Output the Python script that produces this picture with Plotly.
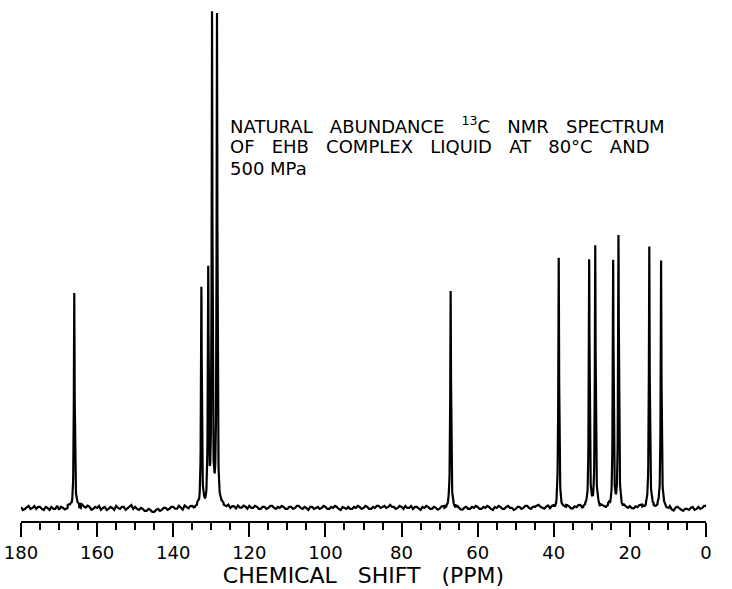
import numpy as np
import plotly.graph_objects as go

# Peak positions (ppm) and heights (arbitrary units, baseline = 0)
peak_ppm = [166.0, 132.6, 130.8, 129.8, 128.5, 67.1, 38.7, 30.7, 29.1, 24.4, 23.0, 14.9, 11.8]
peak_height = [216, 218, 233, 489, 491, 215, 249, 245, 261, 245, 270, 261, 247]

# Baseline noise: whole-ppm samples (180 -> 0)
noise_int_ppm = list(range(180, -1, -1))
noise_int = [
    1, -1, 2, 0, -1, 1, -2, 0, 1, -1,
    -2, 0, -1, 1, -1, 2, 3, 0, 1, -1,
    0, -2, 1, -1, 0, 2, -1, 1, 0, 3,
    1, -2, -1, -3, -2, -4, -1, -2, 0, -1,
    1, -1, 0, 2, -1, 1, 0, -1, 1, 0,
    0, 1, -1, 2, 0, -1, 1, 2, 0, 1,
    2, 0, 1, -1, 1, 0, 2, -1, 0, 1,
    -1, 1, 0, 2, -1, 0, 1, -1, 1, 0,
    1, -1, 0, 1, -2, 0, 1, -1, 0, 1,
    0, 1, -1, 0, 2, 1, 0, 3, 1, 0,
    1, 2, 0, -1, 1, -2, 0, 1, -1, 0,
    -1, 1, 0, 2, -1, 0, -2, 1, -1, 0,
    1, -1, 0, 1, -2, 0, 1, -1, 2, 0,
    -1, 1, 0, 2, -1, 1, 3, 0, 1, -1,
    0, 2, -1, 0, 1, -1, 0, 2, 0, -1,
    1, 0, -1, 1, 0, -1, 0, 1, -1, 0,
    1, -1, 0, 2, -1, 0, 1, -1, 0, 1,
    -1, -2, 0, -1, -3, -1, 0, -2, 1, 0,
    2,
]
# ... and half-ppm samples (179.5 -> 0.5)
noise_half_ppm = [v - 0.5 for v in range(180, 0, -1)]
noise_half = [
    -2, 1, -1, 2, 1, -1, 1, -2, -1, 2,
    1, -2, 2, -1, 1, -1, 1, 2, -2, 1,
    2, 0, -2, 1, -2, 0, 1, -2, 2, -1,
    -1, 0, -3, -1, -4, -2, -3, 0, -2, 1,
    -1, 2, -2, 0, 1, -1, 2, 1, -1, 2,
    -1, -1, 1, 0, 2, 1, -1, 0, 2, -1,
    0, 2, -1, 1, -1, 2, 0, 1, 2, -1,
    1, -1, 2, 0, 1, -2, 1, 0, -1, 2,
    -1, 1, 2, -1, 1, -1, -1, 1, 2, -1,
    2, -1, 1, 2, 0, 2, 1, 1, -1, 2,
    -1, 0, 2, 1, -1, 1, 2, -1, 1, -2,
    1, -1, 2, 0, 1, -2, 0, -1, 1, 2,
    -1, 1, 2, -1, 1, 2, -1, 1, 0, -2,
    1, -1, 2, 0, 1, 2, 1, -1, 2, 1,
    -2, 1, 0, 2, -1, 1, 2, -1, 1, 2,
    -1, 2, 1, -1, 2, 1, -1, 2, 1, -1,
    -1, 1, 2, 0, 1, 2, -1, 1, 2, -1,
    1, -3, 1, -2, -1, -2, 1, -1, -1, 2,
]

x_ticks = list(range(180, -1, -20))
x_tick_labels = [str(v) for v in x_ticks]
x_minor = list(range(180, -1, -5))

# Build the spectrum trace: baseline samples plus dense samples around each peak
noise_lookup = dict(zip([float(v) for v in noise_int_ppm], noise_int))
noise_lookup.update(dict(zip(noise_half_ppm, noise_half)))
half_width = 0.12
xs = set(noise_lookup.keys())
for p in peak_ppm:
    for k in range(-50, 51):
        xs.add(round(p + k * 0.04, 3))
xs = np.array(sorted(xs, reverse=True))
ys = np.array([noise_lookup[round(min(max(x, 0.0), 180.0) * 2) / 2] for x in xs], dtype=float)
for p, h in zip(peak_ppm, peak_height):
    ys += h / (1.0 + ((xs - p) / half_width) ** 2)

fig = go.Figure()
fig.add_trace(go.Scatter(x=xs, y=ys, mode="lines",
                         line=dict(color="black", width=2.2),
                         hoverinfo="skip", showlegend=False))

font_family = "DejaVu Sans"
gap = "\u00a0\u00a0 "
label_lines = [
    gap.join(["NATURAL", "ABUNDANCE", "<sup>13</sup>C", "NMR", "SPECTRUM"]),
    gap.join(["OF", "EHB", "COMPLEX", "LIQUID", "AT", "80°C", "AND"]),
    "500 MPa",
]
label_y = [383.5, 361.5, 339.5]
for txt, yy in zip(label_lines, label_y):
    fig.add_annotation(x=125.5, y=yy, xref="x", yref="y", text=txt,
                       showarrow=False, xanchor="left", yanchor="middle",
                       font=dict(family=font_family, size=18, color="black"))

fig.update_layout(
    width=732, height=589,
    margin=dict(l=21, r=26, t=0, b=68),
    plot_bgcolor="white", paper_bgcolor="white",
    showlegend=False,
    xaxis=dict(
        range=[180, 0], showgrid=False, zeroline=False,
        showline=True, linecolor="black", linewidth=2,
        ticks="outside", ticklen=14, tickwidth=2, tickcolor="black",
        tickvals=x_ticks, ticktext=x_tick_labels,
        tickfont=dict(family=font_family, size=18, color="black"),
        minor=dict(tickvals=x_minor, ticks="outside", ticklen=7,
                   tickwidth=1.5, tickcolor="black"),
        title=dict(text="CHEMICAL\u00a0\u00a0 SHIFT\u00a0\u00a0 (PPM)", standoff=3,
                   font=dict(family=font_family, size=22, color="black")),
    ),
    yaxis=dict(visible=False, range=[-13, 508]),
)

fig.write_html("out.html")
